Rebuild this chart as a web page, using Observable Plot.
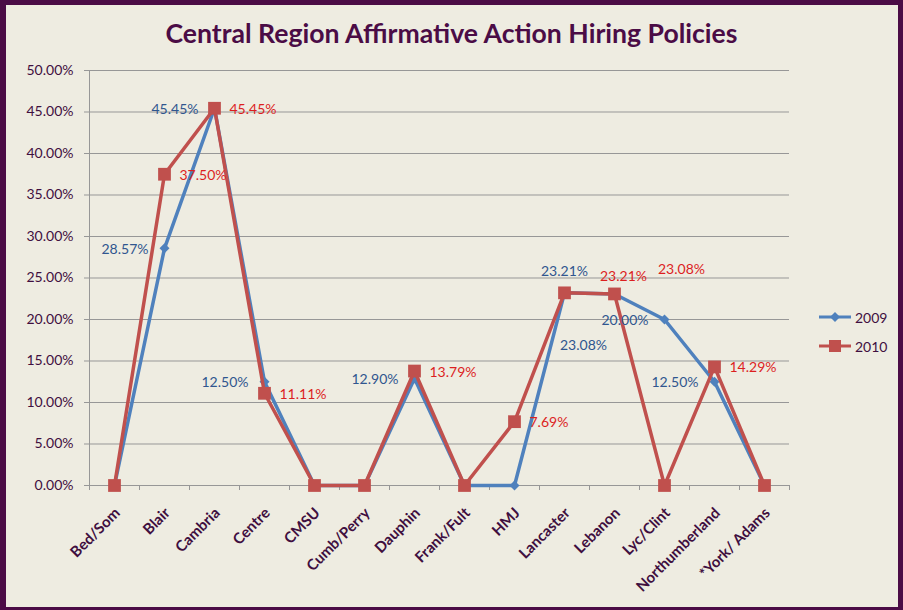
<!DOCTYPE html>
<html>
<head>
<meta charset="utf-8">
<script src="https://cdn.jsdelivr.net/npm/d3@7"></script>
<script src="https://cdn.jsdelivr.net/npm/@observablehq/plot@0.6"></script>
<style>
  body { margin: 0; background: #ffffff; }
  #chart { position: relative; width: 903px; height: 610px; background: #EEECE1; overflow: hidden; font-family: Lato, "Open Sans", sans-serif; }
  #border { position: absolute; left: 0; top: 0; width: 903px; height: 610px; box-sizing: border-box; border: 5px solid #4B0C46; border-left-width: 6px; border-bottom-width: 3px; pointer-events: none; z-index: 5; }
  #title { position: absolute; left: 0; top: 18px; width: 903px; text-align: center; font-size: 26.6px; line-height: 30px; font-weight: bold; color: #4B0C46; }
  #plot { position: absolute; left: 0; top: 50px; }
  .leg { position: absolute; left: 818px; height: 20px; display: flex; align-items: center; font-size: 14px; color: #3F0F3F; }
  .leg svg { margin-right: 3px; }
</style>
</head>
<body>
<div id="chart">
  <div id="title">Central Region Affirmative Action Hiring Policies</div>
  <div id="plot"></div>
  <div id="legend"></div>
  <div id="border"></div>
</div>
<script>
// ---- data ----
const categories = ["Bed/Som", "Blair", "Cambria", "Centre", "CMSU", "Cumb/Perry", "Dauphin",
  "Frank/Fult", "HMJ", "Lancaster", "Lebanon", "Lyc/Clint", "Northumberland", "*York/ Adams"];
const values2009 = [0, 0.2857, 0.4545, 0.1250, 0, 0, 0.1290, 0, 0, 0.2321, 0.2308, 0.2000, 0.1250, 0];
const values2010 = [0, 0.3750, 0.4545, 0.1111, 0, 0, 0.1379, 0, 0.0769, 0.2321, 0.2308, 0, 0.1429, 0];
const seriesNames = ["2009", "2010"];
const yTicks = [0, 0.05, 0.10, 0.15, 0.20, 0.25, 0.30, 0.35, 0.40, 0.45, 0.50];

// ---- layout / style (not data) ----
const colors = {"2009": "#4F81BD", "2010": "#C0504D"};
const labelColors = {"2009": "#30568F", "2010": "#DC1F1F"};
const purple = "#3F0F3F";
const grid = "#979797";
// default label placement per series, with manual overrides (as in the original)
const labelDefault = {"2009": {dx: -16, dy: 1, anchor: "end"}, "2010": {dx: 15, dy: 1, anchor: "start"}};
const labelOverride = {
  "2009": {"Lancaster": {dx: 0, dy: -21, anchor: "middle"}, "Lebanon": {dx: -31, dy: 52, anchor: "middle"}},
  "2010": {"Lancaster": {dx: 59, dy: -16, anchor: "middle"}, "Lebanon": {dx: 67, dy: -24, anchor: "middle"}}
};

const rows = [];
seriesNames.forEach((s, si) => {
  const vals = si === 0 ? values2009 : values2010;
  categories.forEach((c, i) => rows.push({series: s, cat: c, v: vals[i]}));
});
const fmt = d3.format(".2%");

function labelMarks(s) {
  const data = rows.filter(r => r.series === s && r.v > 0);
  const groups = {};
  data.forEach(r => {
    const o = (labelOverride[s] && labelOverride[s][r.cat]) || labelDefault[s];
    const key = o.dx + "|" + o.dy + "|" + o.anchor;
    (groups[key] = groups[key] || {o, items: []}).items.push(r);
  });
  return Object.values(groups).map(g => Plot.text(g.items, {
    x: "cat", y: "v", text: d => fmt(d.v), dx: g.o.dx, dy: g.o.dy, textAnchor: g.o.anchor,
    fill: labelColors[s], fontSize: 14
  }));
}

const step = 50; // category band width in px (used for boundary tick offsets)
const boundaries = categories.map(c => ({cat: c, dx: -step / 2})).concat([{cat: categories[categories.length - 1], dx: step / 2}]);

const plot = Plot.plot({
  width: 903,
  height: 560,
  marginLeft: 89,
  marginRight: 114,
  marginTop: 20,
  marginBottom: 125,
  style: {background: "transparent", fontFamily: "Lato, 'Open Sans', sans-serif", fontSize: "14px", color: purple, overflow: "visible"},
  x: {type: "point", domain: categories, padding: 0.5, axis: null},
  y: {domain: [0, 0.5], axis: null},
  marks: [
    Plot.ruleY(yTicks.filter(t => t > 0), {y: d => d, stroke: grid, strokeWidth: 1, insetLeft: -5}),
    Plot.ruleX([categories[0]], {x: d => d, dx: -step / 2, stroke: grid, strokeWidth: 1}),
    Plot.ruleY([0], {stroke: grid, strokeWidth: 1, insetLeft: -5}),
    ...boundaries.map(b => Plot.ruleX([b], {x: "cat", y1: 0, y2: 0, dx: b.dx, insetBottom: -5, stroke: grid, strokeWidth: 1})),
    Plot.text(yTicks, {y: d => d, frameAnchor: "left", text: d => fmt(d), dx: -16, textAnchor: "end", fill: purple, fontSize: 14}),
    Plot.text(categories, {x: d => d, y: 0, text: d => d, rotate: -45, textAnchor: "end", dx: 3, dy: 25, fontWeight: "bold", fill: purple, fontSize: 15, lineAnchor: "middle"}),
    Plot.line(rows.filter(r => r.series === "2009"), {x: "cat", y: "v", stroke: colors["2009"], strokeWidth: 3.5}),
    Plot.dot(rows.filter(r => r.series === "2009"), {x: "cat", y: "v", symbol: "diamond2", r: 4.5, fill: colors["2009"], stroke: "none"}),
    Plot.line(rows.filter(r => r.series === "2010"), {x: "cat", y: "v", stroke: colors["2010"], strokeWidth: 3.5}),
    Plot.dot(rows.filter(r => r.series === "2010"), {x: "cat", y: "v", symbol: "square", r: 7.2, fill: colors["2010"], stroke: "none"}),
    ...labelMarks("2009"),
    ...labelMarks("2010")
  ]
});
document.getElementById("plot").appendChild(plot);

// legend
const legend = document.getElementById("legend");
const legendTops = {"2009": 307, "2010": 336};
seriesNames.forEach(s => {
  const item = document.createElement("div");
  item.className = "leg";
  item.style.top = legendTops[s] + "px";
  const marker = s === "2009"
    ? `<path d="M17,5 L22,10 L17,15 L12,10 Z" fill="${colors[s]}"/>`
    : `<rect x="11" y="4" width="12" height="12" fill="${colors[s]}"/>`;
  item.innerHTML = `<svg width="34" height="20"><line x1="1" x2="33" y1="10" y2="10" stroke="${colors[s]}" stroke-width="3"/>${marker}</svg><span>${s}</span>`;
  legend.appendChild(item);
});
</script>
</body>
</html>
